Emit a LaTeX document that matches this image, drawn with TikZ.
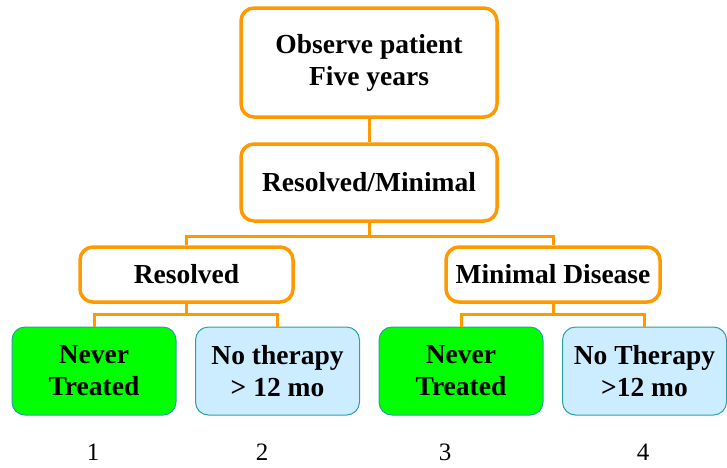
\documentclass[tikz,border=0pt]{standalone}
\usepackage{fontspec}
\setmainfont{Liberation Serif}
\usetikzlibrary{positioning}
\definecolor{pOrange}{RGB}{255,153,0}
\definecolor{pGreen}{RGB}{0,255,0}
\definecolor{pBlue}{RGB}{204,236,255}
\definecolor{pTeal}{RGB}{40,160,165}
\tikzset{
    obox/.style={rectangle, rounded corners=13pt, draw=pOrange, line width=3.5pt, fill=white, align=center, inner sep=0pt, font=\fontsize{27.5}{32}\selectfont\bfseries},
    gbox/.style={rectangle, rounded corners=13pt, draw=pTeal, line width=1pt, fill=pGreen, align=center, inner sep=0pt, minimum width=164pt, minimum height=88pt, font=\fontsize{27.5}{32}\selectfont\bfseries},
    bbox/.style={gbox, fill=pBlue},
    link/.style={draw=pOrange, line width=3pt},
    num/.style={font=\fontsize{25}{28}\selectfont}
}
\begin{document}
\begin{tikzpicture}[x=1pt,y=-1pt]
\useasboundingbox (0,0) rectangle (727,467);
\node[obox, minimum width=256pt, minimum height=109pt] (obs) at (369,62.5) {Observe patient\\Five years};
\node[obox, minimum width=256pt, minimum height=77pt] (resmin) at (369,182.5) {Resolved/Minimal};
\node[obox, minimum width=213pt, minimum height=55pt] (res) at (186.5,274.5) {Resolved};
\node[obox, minimum width=214pt, minimum height=55pt] (mind) at (553,274.5) {Minimal Disease};
\node[gbox] (never1) at (94,371) {Never\\Treated};
\node[bbox] (nother) at (277.5,371) {No therapy\\> 12 mo};
\node[gbox] (never2) at (461,371) {Never\\Treated};
\node[bbox] (nother2) at (644.5,371) {No Therapy\\>12 mo};
\node[num] (n1) at (93,452) {1};
\node[num] (n2) at (262,452) {2};
\node[num] (n3) at (445,452) {3};
\node[num] (n4) at (643,452) {4};
% connectors
\draw[link] (obs) -- (resmin);
\draw[link] (resmin.south) -- ++(0,14) -| (res.north);
\draw[link] (resmin.south) -- ++(0,14) -| (mind.north);
\draw[link] (res.south) -- ++(0,11) -| (never1.north);
\draw[link] (res.south) -- ++(0,11) -| (nother.north);
\draw[link] (mind.south) -- ++(0,11) -| (never2.north);
\draw[link] (mind.south) -- ++(0,11) -| (nother2.north);
\end{tikzpicture}
\end{document}
